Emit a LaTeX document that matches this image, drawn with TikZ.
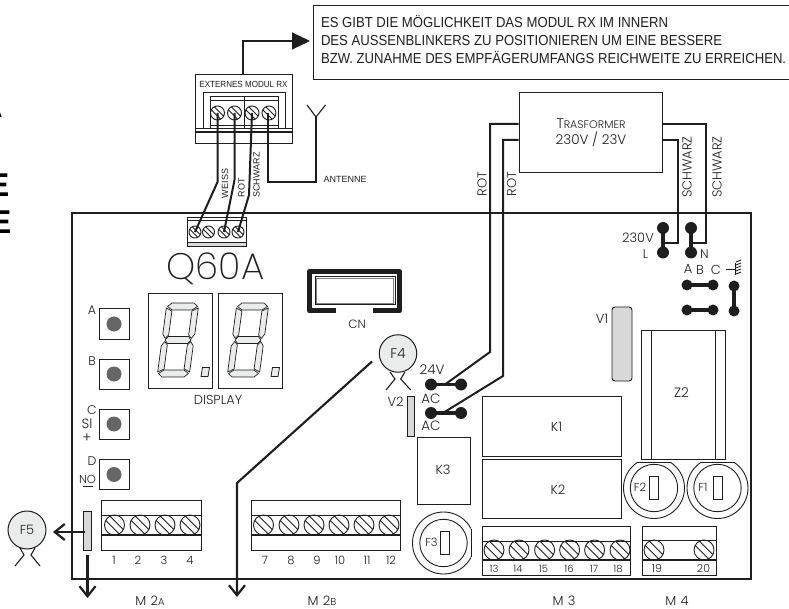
\documentclass[tikz,border=0pt]{standalone}
\usepackage{fontspec}
\setmainfont{Poppins Light}
\newfontfamily\arial{Liberation Sans}
\newfontfamily\arialn{Liberation Sans}[FakeStretch=0.905]
\newfontfamily\arialb{Liberation Sans Bold}
\newfontfamily\thinf{Poppins ExtraLight}
\usetikzlibrary{arrows.meta,calc}
\newcommand\fs[1]{\fontsize{#1}{#1}\selectfont}
\definecolor{ink}{HTML}{1E1E1E}
\definecolor{segfill}{HTML}{E9ECEB}
\definecolor{slabfill}{HTML}{D8D8D8}
\definecolor{knob}{HTML}{666666}
\newcommand\screw[3]{%
  \draw[line width=.9pt,shift={(#1,#2)}] (0,0) circle[radius=#3]
    (.885*#3,.465*#3) -- (-.465*#3,-.885*#3)
    (.465*#3,.885*#3) -- (-.885*#3,-.465*#3);}
\newcommand\jump[4]{%
  \fill[ink] (#1) circle[radius=#4] (#2) circle[radius=#4];
  \draw[line width=#3] (#1) -- (#2);}
\newcommand\digit[2]{%
  \begin{scope}[shift={(#1,#2)},xslant=0.135,segment/.style={draw,line width=.7pt,fill=segfill,line join=round}]
    \draw[segment] (-11,-37)--(11,-37)--(15,-33.5)--(10,-30)--(-10,-30)--(-15,-33.5)--cycle;
    \draw[segment] (-11,37)--(11,37)--(15,33.5)--(10,30)--(-10,30)--(-15,33.5)--cycle;
    \draw[segment] (-10,-3.5)--(10,-3.5)--(13,0)--(10,3.5)--(-10,3.5)--(-13,0)--cycle;
    \draw[segment] (16,-32)--(16,-6)--(13,-1.5)--(10,-5)--(10,-29)--cycle;
    \draw[segment] (16,32)--(16,6)--(13,1.5)--(10,5)--(10,29)--cycle;
    \draw[segment] (-16,-32)--(-16,-6)--(-13,-1.5)--(-10,-5)--(-10,-29)--cycle;
    \draw[segment] (-16,32)--(-16,6)--(-13,1.5)--(-10,5)--(-10,29)--cycle;
  \end{scope}}
\newcommand\fuse[3]{% outer ring drawn by caller
  \draw[line width=.9pt] (#1,#2) circle[radius=23.7];
  \draw[line width=1pt] ($(#1,#2)+(#3,-11.5)$) rectangle ($(#1,#2)+(#3+9.5,11.5)$);}
\tikzset{
  lab/.style={inner sep=0pt,text=ink,font=\fs{13}},
  ar/.style={inner sep=0pt,text=ink,font=\arial\fs{9}},
  wire/.style={line width=2pt,line join=miter},
  barb/.style={line width=2.1pt,-{Straight Barb[length=10pt,width=16pt,line width=2.2pt]}},
  slab/.style={draw,fill=slabfill,line width=.9pt}
}
\begin{document}
\begin{tikzpicture}[x=1pt,y=-1pt,line width=1pt,draw=ink]
\useasboundingbox (0,0) rectangle (789,609);
% clipped letters at the left edge
\node[anchor=base east,inner sep=0pt,font=\arialb\fs{24}] (cutA) at (3,118) {A};
\node[anchor=east,inner sep=0pt,font=\arialb\fs{33}] (cutE1) at (10,185) {E};
\node[anchor=east,inner sep=0pt,font=\arialb\fs{33}] (cutE2) at (12,222) {E};
% board
\draw[line width=2.4pt] (72,213) rectangle (751,579);
% note
\node[draw,line width=1pt,anchor=north west,minimum width=478,minimum height=74,inner sep=0pt] (note) at (313,5) {};
\node[anchor=base west,inner sep=0pt,text=ink,font=\arialn\fs{14.5}] (n1) at (320.5,27.5) {ES GIBT DIE MÖGLICHKEIT DAS MODUL RX IM INNERN};
\node[anchor=base west,inner sep=0pt,text=ink,font=\arialn\fs{14.5}] (n2) at (320.5,45.5) {DES AUSSENBLINKERS ZU POSITIONIEREN UM EINE BESSERE};
\node[anchor=base west,inner sep=0pt,text=ink,font=\arialn\fs{14.5}] (n3) at (320.5,63.5) {BZW. ZUNAHME DES EMPFÄGERUMFANGS REICHWEITE ZU ERREICHEN.};
% module
\node[draw,anchor=north west,minimum width=97,minimum height=69,inner sep=0pt] (module) at (195,74) {};
\coordinate (modtop) at (243,74);
\coordinate (modarrow) at (243,41);
\draw[line width=1.1pt,-{Triangle[length=18pt,width=17pt]},shorten >=3pt] (modtop) -- (modarrow) -- (note.west |- modarrow);
\node[inner sep=0pt,text=ink,font=\arialn\fs{8.9}] (modlab) at (243.5,84) {EXTERNES MODUL RX};
\draw (203.5,129) -- (203.5,93) -- (285,93) -- (285,129);
\draw (210,129) -- (210,97) -- (278,97) -- (278,129);
\draw[line width=.7pt] (210,100) -- (278,100) (210,125) -- (278,125) (244.5,97) -- (244.5,129);
\draw (195,129) -- (292,129);
\draw[line width=1.2pt] (195,132) -- (292,132);
\screw{217.5}{113}{7}\screw{234.5}{113}{7}\screw{252}{113}{7}\screw{269}{113}{7}
\coordinate (ms1) at (217.5,113); \coordinate (ms2) at (234.5,113); \coordinate (ms3) at (252,113); \coordinate (ms4) at (268,113);
% board connector
\fill[slabfill] (187,243) rectangle (246,247);
\draw (187,218) rectangle (246,247) (187,221) -- (246,221) (187,243) -- (246,243);
\screw{195}{232}{6}\screw{208.5}{232}{6}\screw{224}{232}{6}\screw{238}{232}{6}
\coordinate (bs1) at (195,232); \coordinate (bs3) at (224,232); \coordinate (bs4) at (238,232);
\draw[wire] (ms1) -- (217.5,182) -- (bs1);
\draw[wire] (ms2) -- (234.5,180) -- (bs3);
\draw[wire] (ms3) -- (249,195) -- (bs4);
\coordinate (antbase) at (316,182);
\coordinate (antjoin) at (316,117);
\coordinate (antl) at (307,105);
\coordinate (antr) at (325.5,105);
\draw[wire] (ms4) -- (268,182) -- (antbase) -- (antjoin);
\draw[line width=1.1pt] (antl) -- (antjoin) -- (antr);
\node[ar] (antenne) at (345,179.5) {ANTENNE};
\node[ar,rotate=90] (weiss) at (225,183.5) {WEISS};
\node[ar,rotate=90] (rotlab) at (241.5,188) {ROT};
\node[ar,rotate=90] (schwarz) at (256.5,175) {SCHWARZ};
% title
\node[inner sep=0pt,text=ink,font=\thinf\fs{37}] (q60a) at (215.5,269) {Q60A};
% displays
\draw (148,294) rectangle (212,388);
\draw (218,294) rectangle (282,388);
\digit{178}{340}\digit{248}{340}
\draw[line width=.8pt,fill=segfill] (201,376.5) -- (208,376.5) -- (209.5,367.5) -- (202.5,367.5) -- cycle;
\draw[line width=.8pt,fill=segfill] (271,376.5) -- (278,376.5) -- (279.5,367.5) -- (272.5,367.5) -- cycle;
\node[lab] (display) at (218,399.5) {DISPLAY};
% buttons
\foreach \yy/\nm in {324/A,374/B,424/C,474.5/D}{
  \draw ($(99,\yy)+(0,-15)$) rectangle ($(129,\yy)+(0,15)$);
  \fill[knob] (114,\yy) circle[radius=7.5];
}
\node[lab,font=\fs{12.5}] (la) at (92,310) {A};
\node[lab,font=\fs{12.5}] (lb) at (92,361) {B};
\node[lab,font=\fs{12.5}] (lc) at (92,410.5) {C};
\node[lab,font=\fs{13.5}] (lsi) at (87,424) {SI};
\node[lab,font=\fs{14}] (lplus) at (87,438) {+};
\node[lab,font=\fs{12.5}] (ld) at (92,461) {D};
\node[lab,font=\fs{11.5}] (lno) at (87.5,479) {NO};
\draw[line width=.8pt] (83,486.5) -- (92.5,486.5);
% M2A
\draw (101,500) rectangle (201,550);
\draw (101,515) -- (201,515);
\draw[line width=1.4pt] (101,535) -- (201,535);
\foreach \xx in {114.5,140,165,190}{\screw{\xx}{525}{10}}
\foreach \xx/\tt in {114/1,138/2,164/3,190/4}{\node[lab,font=\fs{11.5}] at (\xx,560.5) {\tt};}
% M2B
\draw (251,500) -- (400,500) -- (400,550) -- (251,550) -- cycle;
\draw (251,515) -- (400,515);
\draw[line width=1.4pt] (251,535) -- (400,535);
\foreach \xx in {263.5,289,314,339,364,389}{\screw{\xx}{525}{10}}
\foreach \xx/\tt in {265/7,291/8,317/9,340/10,367/11,391/12}{\node[lab,font=\fs{11.5}] at (\xx,560.5) {\tt};}
% F5
\node[circle,draw,fill=segfill,line width=1pt,minimum size=38,inner sep=0pt,text=ink,font=\fs{13}] (f5) at (27,530) {F5};
\draw[line width=1.1pt] (20,548) -- (24,555) -- (15,566) (35,548) -- (31,555) -- (40,566);
\draw[slab] (83,511) rectangle (91,550);
\coordinate (slabw) at (85,532);
\coordinate (slabs) at (87.5,555);
\coordinate (m2aend) at (87.5,598);
\coordinate (f5tip) at (53,532);
\draw[barb] (slabw) -- (f5tip);
\draw[barb] (slabs) -- (m2aend);
% F4
\node[circle,draw,fill=segfill,line width=1pt,minimum size=37.5,inner sep=0pt,text=ink,font=\fs{14}] (f4) at (398,353.5) {F4};
\draw[line width=1.1pt] (390,372) -- (395,379) -- (386,390) (405,372) -- (400.7,379) -- (410.7,390);
\coordinate (f4line) at (372,361.5);
\coordinate (f4knee) at (237,483);
\coordinate (m2bend) at (237,597);
\draw[barb] (f4line) -- (f4knee) -- (m2bend);
\node[lab] (v2) at (395.5,402) {V2};
\draw[slab] (407,396) rectangle (414,436);
% transformer
\node[draw,anchor=north west,minimum width=143.5,minimum height=80,inner sep=0pt] (trafo) at (518.5,92) {};
\node[inner sep=0pt,text=ink,font=\fs{11}] (tr1) at (591,124) {{\fs{14}T}RASFORMER};
\node[lab,font=\fs{13.5}] (tr2) at (591,139.5) {230V / 23V};
\coordinate (j24a) at (431,384.5); \coordinate (j24b) at (461,384.5);
\coordinate (jaca) at (431,413); \coordinate (jacb) at (461,413);
\coordinate (jLa) at (663,228); \coordinate (jLb) at (663,252.5);
\coordinate (jNa) at (691,228); \coordinate (jNb) at (691,252.5);
\draw[wire] (518.5,124) -- (490,124) -- (490,352) -- (445,384.5);
\draw[wire] (518.5,140) -- (503,140) -- (503,376) -- (443,413);
\draw[wire] (662,124) -- (706,124) -- (706,243) -- (691,243);
\draw[wire] (662,140) -- (678,140) -- (678,243) -- (663,243);
\jump{j24a}{j24b}{3.2pt}{6}
\jump{jaca}{jacb}{3.2pt}{6}
\jump{jLa}{jLb}{4pt}{6}
\jump{jNa}{jNb}{4pt}{6}
\node[lab,rotate=90] (rot1) at (482,184) {ROT};
\node[lab,rotate=90] (rot2) at (511.5,184) {ROT};
\node[lab,rotate=90] (sw1) at (687,167) {SCHWARZ};
\node[lab,rotate=90] (sw2) at (717,167) {SCHWARZ};
\node[lab,font=\fs{13.5}] (v24) at (432,370) {24V};
\node[lab,font=\fs{13.5}] (ac1) at (431,398.5) {AC};
\node[lab,font=\fs{13.5}] (ac2) at (431,425.5) {AC};
\node[lab] (v230) at (638,238) {230V};
\node[lab,font=\fs{12.5}] (ll) at (645.5,254) {L};
\node[lab,font=\fs{12.5}] (nn) at (704.5,254.5) {N};
\node[lab] (abc) at (688,269.5) {A};
\node[lab] (abc2) at (700,269.5) {B};
\node[lab] (abc3) at (716,269.5) {C};
% earth
\draw[line width=.9pt] (726,269) -- (735,269) (735,263) -- (735,275);
\draw[line width=.9pt] (736,262) -- (741,260) (736,265) -- (741,263) (736,268) -- (741,266) (736,271) -- (741,269) (736,274) -- (741,272);
% jumpers
\coordinate (ja1) at (687,285); \coordinate (ja2) at (713,285);
\coordinate (jb1) at (687,310); \coordinate (jb2) at (713,310);
\coordinate (jc1) at (734,286); \coordinate (jc2) at (734,311);
\jump{ja1}{ja2}{3.2pt}{5.5}
\jump{jb1}{jb2}{3.2pt}{5.5}
\jump{jc1}{jc2}{3.6pt}{5.5}
% CN
\draw[line width=5pt,line join=round] (335.5,311) -- (309.5,311) -- (309.5,271.5) -- (399.5,271.5) -- (399.5,311) -- (373,311);
\draw[line width=1pt] (315,277) rectangle (395,305);
\draw[line width=.6pt,gray] (316.5,278.5) rectangle (393.5,303.5);
\node[lab,font=\fs{12}] (cn) at (357,324.5) {CN};
% V1
\draw[slab,rounded corners=3pt] (612,307) rectangle (632,381);
\node[lab] (v1) at (602,318.5) {V1};
% Z2
\draw (641,330) rectangle (725,459.5) (651,330) -- (651,459.5) (715,330) -- (715,459.5);
\node[lab,font=\fs{13.5}] (z2) at (681.5,392.5) {Z2};
% relays
\draw (482,396) rectangle (621,456);
\node[lab] (k1) at (556.5,426.5) {K1};
\draw (482,459) rectangle (621,518);
\node[lab] (k2) at (558,489.5) {K2};
\draw (417,437) rectangle (470,504);
\node[lab] (k3) at (443,469.5) {K3};
% fuses
\begin{scope}\clip (600,462) rectangle (760,530);
\draw[line width=.9pt] (654,488) circle[radius=30.5] (717.5,488) circle[radius=30.5];
\end{scope}
\draw[line width=.9pt] (637,462) -- (671,462) (700.5,462) -- (734.5,462);
\fuse{654}{488}{-5}\fuse{717.5}{488}{-4.5}
\begin{scope}\clip (400,500) rectangle (471,580);
\draw[line width=.9pt] (443.5,543) circle[radius=31];
\end{scope}
\draw[line width=.9pt] (471,529) -- (471,557);
\fuse{443.5}{543}{-3.5}
\node[lab,font=\fs{11.5}] (f2) at (640,487.5) {F2};
\node[lab,font=\fs{11.5}] (f1) at (703,487.5) {F1};
\node[lab,font=\fs{11.5}] (f3) at (431.5,542.5) {F3};
% M3
\draw (482,526) rectangle (630,575);
\draw (482,541) -- (630,541);
\draw[line width=1.4pt] (482,560) -- (630,560);
\foreach \xx in {494,519,544.6,569.6,594.6,620}{\screw{\xx}{550}{10}}
\foreach \xx/\tt in {494/13,518/14,543.5/15,569/16,594/17,618/18}{\node[lab,font=\fs{10}] at (\xx,568.5) {\tt};}
% M4
\draw (642,526) rectangle (716,575);
\draw (642,540) -- (716,540);
\draw[line width=1.4pt] (642,560) -- (716,560);
\screw{654}{550}{10}\screw{704}{550}{10}
\node[lab,font=\fs{11}] (n19) at (657,568) {19};
\node[lab,font=\fs{11}] (n20) at (703.5,568) {20};
% bottom labels
\node[lab] (m2a) at (150,601) {M\,\,2{\fs{10}A}};
\node[lab] (m2b) at (322,601) {M\,\,2{\fs{10}B}};
\node[lab] (m3) at (564,601) {M\,\,3};
\node[lab] (m4) at (677,601) {M\,\,4};
\end{tikzpicture}
\end{document}
